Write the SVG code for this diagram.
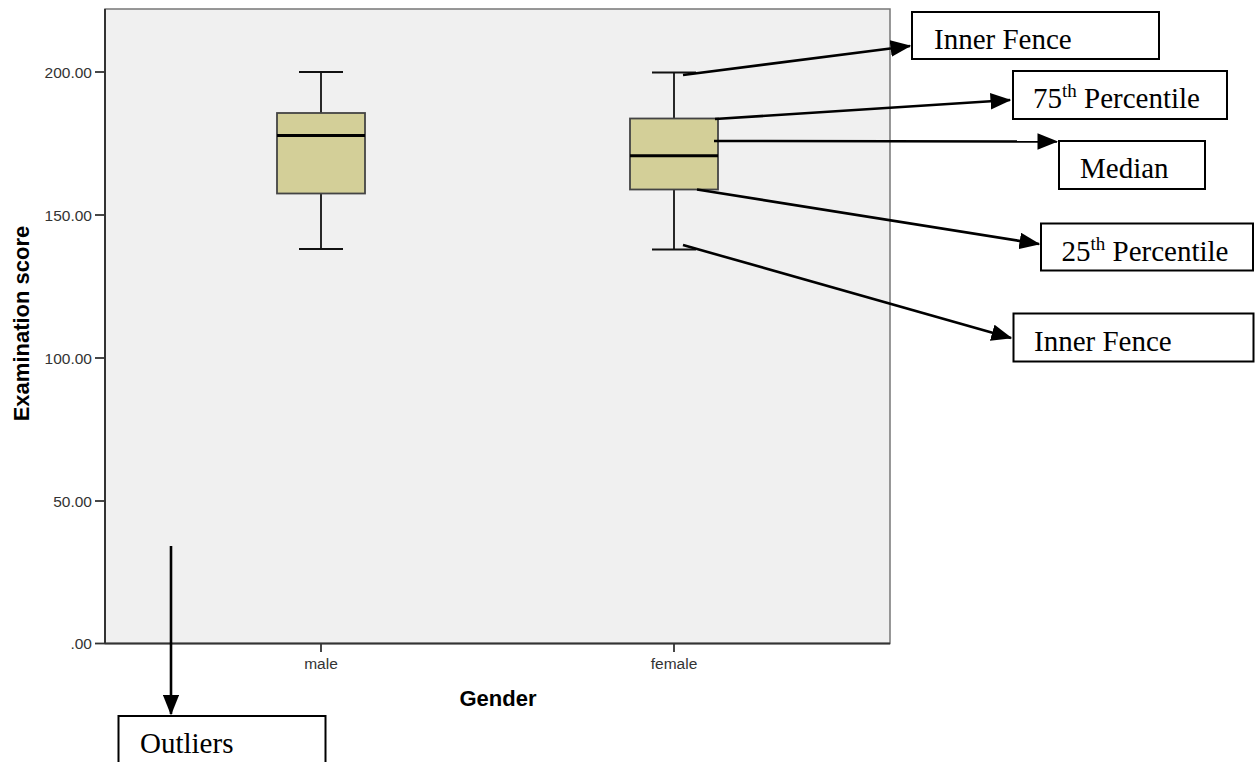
<svg xmlns="http://www.w3.org/2000/svg" width="1257" height="762" viewBox="0 0 1257 762">
<style>
.ax{font-family:"Liberation Sans",Arial,sans-serif;font-size:15.5px;fill:#333}
.axt{font-family:"Liberation Sans",Arial,sans-serif;font-size:22px;font-weight:bold;fill:#000}
.lbl{font-family:"Liberation Serif","Times New Roman",serif;font-size:29px;fill:#000}
.sup{font-size:19px}
.box{fill:#d3cf98;stroke:#444;stroke-width:1.8}
.wh{stroke:#111;stroke-width:1.8;fill:none}
.med{stroke:#000;stroke-width:3}
.nb{fill:#fff;stroke:#000;stroke-width:2}
.con{stroke:#000;stroke-width:2.6;fill:none;marker-end:url(#ah)}
.tick{stroke:#333;stroke-width:1.8}
</style>
<defs>
<marker id="ah" markerWidth="8" markerHeight="6.4" refX="7.5" refY="3.2" orient="auto" markerUnits="strokeWidth">
<path d="M0,0 L8,3.2 L0,6.4 Z" fill="#000"/>
</marker>
</defs>
<rect width="1257" height="762" fill="#fff"/>
<g id="plot">
<rect x="105" y="9" width="785" height="634.5" fill="#f0f0f0" stroke="#777" stroke-width="1.5"/>
<line x1="105" y1="643.5" x2="890" y2="643.5" stroke="#333" stroke-width="2"/>
<line x1="105" y1="9" x2="105" y2="643.5" stroke="#333" stroke-width="2"/>
<g class="tick">
<line x1="95" y1="72" x2="105" y2="72"/>
<line x1="95" y1="215" x2="105" y2="215"/>
<line x1="95" y1="358" x2="105" y2="358"/>
<line x1="95" y1="501" x2="105" y2="501"/>
<line x1="95" y1="643.5" x2="105" y2="643.5"/>
<line x1="321" y1="643.5" x2="321" y2="652"/>
<line x1="674" y1="643.5" x2="674" y2="652"/>
</g>
<g class="ax" text-anchor="end">
<text x="92" y="77.5">200.00</text>
<text x="92" y="220.5">150.00</text>
<text x="92" y="363.5">100.00</text>
<text x="92" y="506.5">50.00</text>
<text x="92" y="649">.00</text>
</g>
<g class="ax" text-anchor="middle">
<text x="321" y="669">male</text>
<text x="674" y="669">female</text>
</g>
<text class="axt" x="498" y="706" text-anchor="middle">Gender</text>
<text class="axt" transform="translate(29,323.5) rotate(-90)" text-anchor="middle">Examination score</text>
</g>
<g id="box-male">
<line class="wh" x1="321" y1="72" x2="321" y2="113"/>
<line class="wh" x1="321" y1="193.5" x2="321" y2="249"/>
<line class="wh" x1="299" y1="72" x2="343" y2="72"/>
<line class="wh" x1="299" y1="249" x2="343" y2="249"/>
<rect class="box" x="277" y="113" width="88" height="80.5"/>
<line class="med" x1="277" y1="135.5" x2="365" y2="135.5"/>
</g>
<g id="box-female">
<line class="wh" x1="674" y1="72.5" x2="674" y2="118.5"/>
<line class="wh" x1="674" y1="189.5" x2="674" y2="249.5"/>
<line class="wh" x1="652" y1="72.5" x2="696" y2="72.5"/>
<line class="wh" x1="652" y1="249.5" x2="696" y2="249.5"/>
<rect class="box" x="630" y="118.5" width="88" height="71"/>
<line class="med" x1="630" y1="155.7" x2="718" y2="155.7"/>
</g>
<g id="n-inner-fence-top">
<rect class="nb" x="912" y="12" width="247" height="47"/>
<text class="lbl" x="934" y="49">Inner Fence</text>
</g>
<g id="n-p75">
<rect class="nb" x="1013" y="71" width="214" height="48"/>
<text class="lbl" x="1033" y="108">75<tspan class="sup" dy="-11">th</tspan><tspan dy="11"> Percentile</tspan></text>
</g>
<g id="n-median">
<rect class="nb" x="1059" y="141" width="146" height="48"/>
<text class="lbl" x="1080" y="178">Median</text>
</g>
<g id="n-p25">
<rect class="nb" x="1041" y="223.5" width="212" height="47"/>
<text class="lbl" x="1061.5" y="261">25<tspan class="sup" dy="-11">th</tspan><tspan dy="11"> Percentile</tspan></text>
</g>
<g id="n-inner-fence-bottom">
<rect class="nb" x="1013.5" y="313.5" width="240" height="48"/>
<text class="lbl" x="1034" y="351">Inner Fence</text>
</g>
<g id="n-outliers">
<rect class="nb" x="118.5" y="716" width="207" height="60"/>
<text class="lbl" x="140" y="752.5">Outliers</text>
</g>
<g id="connectors">
<line class="con" x1="683" y1="75" x2="910" y2="46"/>
<line class="con" x1="715" y1="119" x2="1010" y2="100"/>
<line class="con" x1="714" y1="141" x2="1057" y2="141.5"/>
<line class="con" x1="697" y1="189.5" x2="1039" y2="244"/>
<line class="con" x1="683" y1="245" x2="1011" y2="338"/>
<line class="con" x1="171" y1="546" x2="171" y2="714"/>
</g>
</svg>
